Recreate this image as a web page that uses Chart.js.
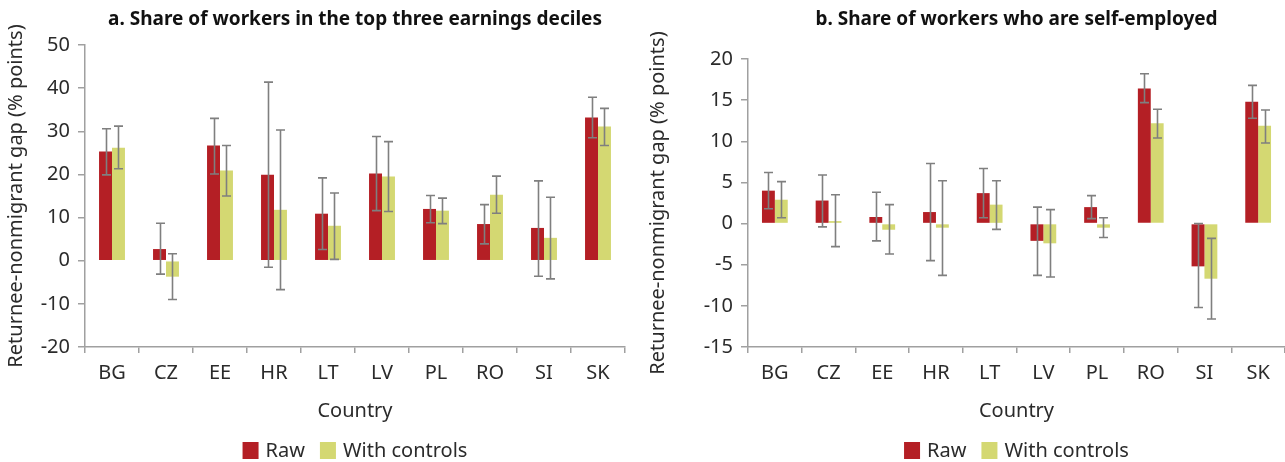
<!DOCTYPE html>
<html>
<head>
<meta charset="utf-8">
<script src="https://cdn.jsdelivr.net/npm/chart.js@4.4.1/dist/chart.umd.min.js"></script>
<style>
  body { margin: 0; background: #fff; }
  .wrap { display: flex; width: 1285px; height: 462px; }
  .box { position: relative; height: 462px; }
</style>
</head>
<body>
<div class="wrap">
  <div class="box" style="width:642px"><canvas id="earnings"></canvas></div>
  <div class="box" style="width:643px"><canvas id="selfemp"></canvas></div>
</div>
<script>
var countries = ['BG', 'CZ', 'EE', 'HR', 'LT', 'LV', 'PL', 'RO', 'SI', 'SK'];

// panel a: top three earnings deciles
var earningsRaw      = [25.3, 2.7, 26.7, 19.9, 10.9, 20.2, 12.0, 8.5, 7.6, 33.2];
var earningsRawLow   = [19.9, -3.1, 20.1, -1.5, 2.6, 11.6, 8.8, 3.9, -3.6, 28.5];
var earningsRawHigh  = [30.6, 8.7, 33.0, 41.4, 19.2, 28.8, 15.1, 13.0, 18.5, 37.9];
var earningsCtrl     = [26.2, -3.7, 20.9, 11.8, 8.1, 19.5, 11.6, 15.3, 5.3, 31.1];
var earningsCtrlLow  = [21.3, -9.0, 15.0, -6.7, 0.3, 11.4, 8.6, 11.0, -4.2, 26.7];
var earningsCtrlHigh = [31.2, 1.6, 26.7, 30.3, 15.7, 27.6, 14.5, 19.6, 14.7, 35.3];

// panel b: self-employed
var selfRaw      = [4.0, 2.8, 0.8, 1.4, 3.7, -2.1, 2.0, 16.4, -5.2, 14.8];
var selfRawLow   = [1.8, -0.4, -2.1, -4.5, 0.7, -6.3, 0.6, 14.7, -10.2, 12.8];
var selfRawHigh  = [6.2, 5.9, 3.8, 7.3, 6.7, 2.0, 3.4, 18.2, 0.0, 16.8];
var selfCtrl     = [2.9, 0.3, -0.75, -0.5, 2.3, -2.4, -0.5, 12.2, -6.7, 11.9];
var selfCtrlLow  = [0.7, -2.8, -3.7, -6.3, -0.7, -6.5, -1.7, 10.4, -11.6, 9.8];
var selfCtrlHigh = [5.1, 3.5, 2.3, 5.2, 5.2, 1.7, 0.7, 13.9, -1.8, 13.8];

var RED = '#b41f25';
var YELLOW = '#d4d872';
var AXIS = '#a0a0a0';
var TEXT = '#2b2b2b';
var FONT = '"Noto Sans", sans-serif';

Chart.defaults.font.family = FONT;
Chart.defaults.color = TEXT;

// whiskers drawn on top of each bar from its low/high arrays
var errorBars = {
  id: 'errorBars',
  afterDatasetsDraw: function (chart) {
    var ctx = chart.ctx;
    var yScale = chart.scales.y;
    ctx.save();
    ctx.strokeStyle = '#7f7f7f';
    ctx.lineWidth = 1.6;
    chart.data.datasets.forEach(function (ds, i) {
      var meta = chart.getDatasetMeta(i);
      meta.data.forEach(function (bar, j) {
        var x = Math.round(bar.x) + 0.5;
        var top = yScale.getPixelForValue(ds.high[j]);
        var bottom = yScale.getPixelForValue(ds.low[j]);
        ctx.beginPath();
        ctx.moveTo(x, top);
        ctx.lineTo(x, bottom);
        ctx.moveTo(x - 4.5, top);
        ctx.lineTo(x + 4.5, top);
        ctx.moveTo(x - 4.5, bottom);
        ctx.lineTo(x + 4.5, bottom);
        ctx.stroke();
      });
    });
    ctx.restore();
  }
};

// title and key centred over the plot area rather than the whole canvas
var headerAndKey = {
  id: 'headerAndKey',
  afterDraw: function (chart, args, opts) {
    var ctx = chart.ctx;
    var area = chart.chartArea;
    var cx = (area.left + area.right) / 2;
    ctx.save();
    ctx.textBaseline = 'middle';
    ctx.textAlign = 'center';
    ctx.fillStyle = '#111';
    ctx.font = 'bold 19px ' + FONT;
    ctx.fillText(opts.text, cx, opts.titleY);

    ctx.font = '20px ' + FONT;
    ctx.textAlign = 'left';
    var box = 16, gap = 7, between = 15;
    var items = chart.data.datasets.map(function (ds) {
      return { label: ds.label, color: ds.backgroundColor, w: box + gap + ctx.measureText(ds.label).width };
    });
    var total = items.reduce(function (s, it) { return s + it.w; }, 0) + between * (items.length - 1);
    var x = cx - total / 2;
    var y = opts.keyY;
    items.forEach(function (it) {
      ctx.fillStyle = it.color;
      ctx.fillRect(x, y - 8, box, 17);
      ctx.fillStyle = TEXT;
      ctx.fillText(it.label, x + box + gap, y + 1);
      x += it.w + between;
    });
    ctx.restore();
  }
};

function makeChart(id, title, raw, rawLow, rawHigh, ctrl, ctrlLow, ctrlHigh, yMin, yMax, step, axisWidth, padRight, padTop) {
  return new Chart(document.getElementById(id), {
    type: 'bar',
    data: {
      labels: countries,
      datasets: [
        { label: 'Raw', data: raw, low: rawLow, high: rawHigh, backgroundColor: RED },
        { label: 'With controls', data: ctrl, low: ctrlLow, high: ctrlHigh, backgroundColor: YELLOW }
      ]
    },
    options: {
      responsive: true,
      maintainAspectRatio: false,
      animation: false,
      layout: { padding: { left: 0, right: padRight, top: padTop, bottom: 39 } },
      datasets: { bar: { categoryPercentage: 0.48, barPercentage: 1.0 } },
      plugins: {
        title: { display: false },
        legend: { display: false },
        tooltip: { enabled: false },
        headerAndKey: { text: title, titleY: 20, keyY: 450 }
      },
      scales: {
        x: {
          offset: true,
          grid: {
            offset: true,
            drawOnChartArea: false,
            drawTicks: true,
            tickLength: 6,
            color: AXIS,
            lineWidth: 1.5
          },
          border: { color: AXIS, width: 1.5 },
          ticks: { font: { size: 20 }, color: TEXT, padding: 8 },
          title: { display: true, text: 'Country', font: { size: 20 }, color: TEXT, padding: { top: 6, bottom: 0 } }
        },
        y: {
          min: yMin,
          max: yMax,
          afterFit: function (scale) { scale.width = axisWidth; },
          grid: {
            drawOnChartArea: false,
            drawTicks: true,
            tickLength: 7,
            color: AXIS,
            lineWidth: 1.5
          },
          border: { color: AXIS, width: 1.5 },
          ticks: { stepSize: step, font: { size: 20 }, color: TEXT, padding: 8 },
          title: { display: true, text: 'Returnee-nonmigrant gap (% points)', font: { size: 20 }, color: TEXT, padding: { top: 4, bottom: 2 } }
        }
      }
    },
    plugins: [errorBars, headerAndKey]
  });
}

makeChart('earnings', 'a. Share of workers in the top three earnings deciles',
  earningsRaw, earningsRawLow, earningsRawHigh, earningsCtrl, earningsCtrlLow, earningsCtrlHigh,
  -20, 50, 10, 85, 17, 45);

makeChart('selfemp', 'b. Share of workers who are self-employed',
  selfRaw, selfRawLow, selfRawHigh, selfCtrl, selfCtrlLow, selfCtrlHigh,
  -15, 20, 5, 106, 0, 59);
</script>
</body>
</html>
